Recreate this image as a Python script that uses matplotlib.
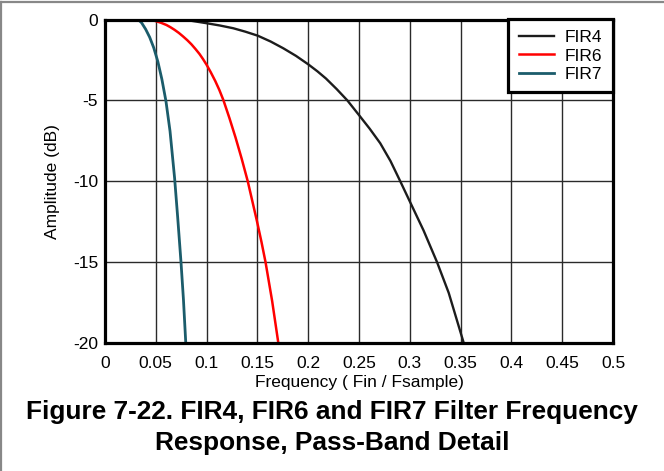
import matplotlib
matplotlib.use("Agg")
import matplotlib.pyplot as plt
from matplotlib.lines import Line2D

plt.rcParams['font.family'] = ['Liberation Sans', 'DejaVu Sans']
plt.rcParams['axes.unicode_minus'] = False

# Pass-band magnitude response (dB) versus normalized frequency
fir4_freq = [0.0737, 0.085, 0.100, 0.113, 0.1262, 0.138, 0.1503, 0.163,
             0.1755, 0.188, 0.200, 0.209, 0.2175, 0.228, 0.2385, 0.2505,
             0.2605, 0.2709, 0.281, 0.2906, 0.3004, 0.3136, 0.3268, 0.3383,
             0.3531]
fir4_db = [0.0, -0.08, -0.23, -0.37, -0.54, -0.75, -1.0, -1.36,
           -1.78, -2.25, -2.77, -3.2, -3.65, -4.3, -5.0, -5.95,
           -6.75, -7.65, -8.75, -10.0, -11.3, -13.05, -15.0, -16.9,
           -20.0]

fir6_freq = [0.0434, 0.047, 0.050, 0.055, 0.0605, 0.0645, 0.0685, 0.0727,
             0.0769, 0.081, 0.085, 0.089, 0.093, 0.0965, 0.100, 0.104,
             0.1085, 0.1125, 0.1165, 0.1225, 0.1285, 0.1345, 0.1405, 0.1495,
             0.154, 0.158, 0.1645, 0.1706]
fir6_db = [0.0, -0.05, -0.1, -0.2, -0.34, -0.48, -0.64, -0.83,
           -1.05, -1.28, -1.53, -1.82, -2.13, -2.45, -2.8, -3.25,
           -3.8, -4.35, -4.98, -6.1, -7.3, -8.6, -10.0, -12.45,
           -13.75, -15.0, -17.4, -20.0]

fir7_freq = [0.0325, 0.036, 0.040, 0.044, 0.048, 0.052, 0.056, 0.060,
             0.064, 0.0685, 0.0715, 0.0748, 0.0772, 0.0795]
fir7_db = [0.0, -0.2, -0.6, -1.1, -1.75, -2.6, -3.7, -5.05,
           -6.9, -9.8, -12.2, -15.0, -17.3, -20.0]

series_names = ['FIR4', 'FIR6', 'FIR7']
x_ticks = [0, 0.05, 0.1, 0.15, 0.2, 0.25, 0.3, 0.35, 0.4, 0.45, 0.5]
x_tick_labels = ['0', '0.05', '0.1', '0.15', '0.2', '0.25', '0.3', '0.35',
                 '0.4', '0.45', '0.5']
y_ticks = [0, -5, -10, -15, -20]

W, H = 664, 471
FS = 12.5
fig = plt.figure(figsize=(W / 100, H / 100), dpi=100)
ax = fig.add_axes([105 / W, 1 - 343 / H, (613 - 105) / W, (343 - 19.5) / H])

ax.plot(fir4_freq, fir4_db, color='#1c1c1c', lw=1.7, label=series_names[0])
ax.plot(fir6_freq, fir6_db, color='#ff0000', lw=1.8, label=series_names[1])
ax.plot(fir7_freq, fir7_db, color='#1b5c6b', lw=2.0, label=series_names[2])

ax.set_xlim(0, 0.5)
ax.set_ylim(-20, 0)
ax.set_xticks(x_ticks)
ax.set_xticklabels(x_tick_labels)
ax.set_yticks(y_ticks)
ax.grid(True, color='#2a2a2a', lw=1.0)
ax.set_axisbelow(True)
for sp in ax.spines.values():
    sp.set_linewidth(2.3)
    sp.set_color('black')
ax.tick_params(length=0, labelsize=FS)
ax.tick_params(axis='x', pad=9.5)
ax.tick_params(axis='y', pad=5)

ax.set_xlabel('Frequency ( Fin / Fsample)', fontsize=FS, labelpad=3)
ax.set_ylabel('Amplitude (dB)', fontsize=FS, labelpad=9.5)

leg = ax.legend(loc='upper right', borderaxespad=0, fancybox=False,
                framealpha=1, edgecolor='black', fontsize=FS,
                handlelength=2.0, handletextpad=0.63, labelspacing=0.17,
                borderpad=0.62)
leg.get_frame().set_linewidth(2.3)

fig.text(0.5, 1 - 412 / H, 'Figure 7-22. FIR4, FIR6 and FIR7 Filter Frequency',
         ha='center', va='center', fontsize=18.9, fontweight='bold')
fig.text(0.5, 1 - 443 / H, 'Response, Pass-Band Detail',
         ha='center', va='center', fontsize=18.9, fontweight='bold')

# Page frame lines along the top and left edges
fig.add_artist(Line2D([0, 1], [1 - 2 / H, 1 - 2 / H], color='#888888', lw=1.6,
                      transform=fig.transFigure))
fig.add_artist(Line2D([1 / W, 1 / W], [0, 1 - 2 / H], color='#888888', lw=1.6,
                      transform=fig.transFigure))

fig.savefig('out.png', dpi=100)
